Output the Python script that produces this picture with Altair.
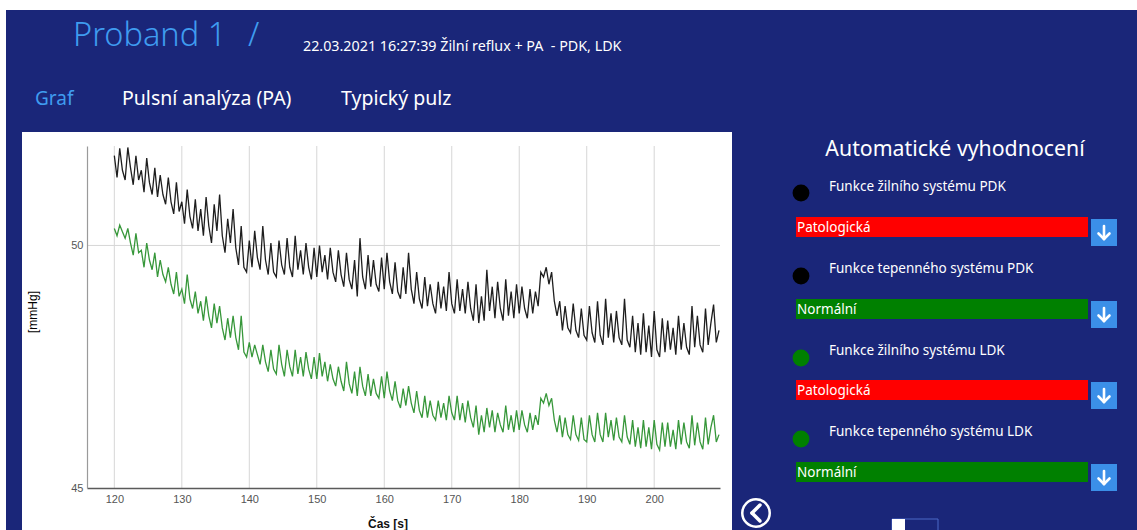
import altair as alt
import pandas as pd

# ---------------- data ----------------
T0 = 120.0
DT = 0.4
pdk = [
    51.85, 51.40, 52.00, 51.55, 51.35,  52.02, 51.60, 51.25, 51.85, 51.35,
    51.55, 51.10, 51.80, 51.30, 51.05,  51.60, 51.00, 51.45, 51.05, 50.85,
    51.40, 50.90, 50.65, 51.30, 50.70,  50.90, 50.45, 51.15, 50.60, 50.35,
    50.95, 50.30, 50.75, 50.20, 51.00,  50.40, 50.05, 50.85, 50.30, 51.05,
    50.20, 49.85, 50.55, 50.05, 50.75,  49.95, 49.60, 50.40, 49.55, 49.45,
    50.10, 49.55, 50.30, 49.75, 49.50,  50.40, 49.70, 49.40, 50.05, 49.45,
    49.35, 50.10, 49.60, 49.40, 50.15,  49.55, 49.35, 50.20, 49.50, 49.90,
    49.40, 50.05, 49.55, 49.30, 49.95,  49.35, 50.00, 49.45, 49.80, 49.30,
    49.95, 49.45, 49.25, 49.90, 49.40,  49.15, 49.85, 49.30, 49.10, 49.70,
    48.95, 50.15, 49.35, 49.10, 49.80,  49.15, 49.70, 49.20, 49.05, 49.75,
    49.10, 49.85, 49.25, 49.00, 49.65,  49.05, 48.90, 49.55, 49.00, 49.85,
    49.10, 48.80, 49.45, 48.90, 48.70,  49.35, 48.75, 49.20, 48.80, 48.60,
    49.25, 48.70, 49.15, 48.65, 49.45,  48.80, 48.60, 49.30, 48.65, 49.10,
    48.60, 49.25, 48.70, 48.45, 49.20,  48.40, 48.95, 48.45, 49.50, 48.65,
    49.15, 48.50, 49.25, 48.70, 48.45,  49.30, 48.55, 49.05, 48.50, 49.20,
    48.60, 49.15, 48.70, 48.50, 49.10,  48.60, 49.05, 48.75, 49.45, 49.35,
    49.55, 49.20, 49.45, 48.85, 48.55,  48.85, 48.25, 48.75, 48.30, 48.20,
    48.80, 48.25, 48.10, 48.70, 48.15,  48.05, 48.75, 48.20, 48.00, 48.85,
    48.15, 47.95, 48.90, 48.10, 48.60,  48.00, 48.65, 48.10, 47.95, 48.90,
    48.05, 47.90, 48.55, 47.80, 48.40,  47.75, 48.60, 47.80, 48.35, 47.70,
    48.65, 47.85, 47.70, 48.50, 47.80,  48.45, 47.85, 48.30, 47.75, 48.55,
    47.85, 48.40, 47.90, 47.75, 48.75,  47.90, 48.55, 47.95, 47.80, 48.70,
    47.95, 48.40, 48.78, 48.00, 48.25,
]
ldk = [
    50.35, 50.20, 50.42, 50.28, 50.15,  50.35, 50.05, 49.80, 50.25, 49.85,
    49.90, 49.55, 50.05, 49.70, 49.50,  49.85, 49.35, 49.70, 49.40, 49.25,
    49.55, 49.20, 49.00, 49.45, 48.95,  49.10, 48.80, 49.40, 48.90, 48.70,
    49.05, 48.60, 48.85, 48.45, 48.95,  48.55, 48.30, 48.80, 48.40, 48.75,
    48.30, 48.05, 48.50, 48.10, 48.55,  48.10, 47.85, 48.55, 47.80, 47.70,
    48.00, 47.70, 47.95, 47.75, 47.55,  47.95, 47.60, 47.40, 47.85, 47.45,
    47.35, 47.95, 47.55, 47.30, 47.85,  47.50, 47.30, 47.85, 47.35, 47.70,
    47.30, 47.80, 47.45, 47.25, 47.70,  47.25, 47.78, 47.30, 47.60, 47.20,
    47.55, 47.25, 47.10, 47.50, 47.20,  47.00, 47.60, 47.15, 46.95, 47.40,
    46.90, 47.50, 47.10, 46.90, 47.35,  46.90, 47.25, 46.95, 46.85, 47.30,
    46.85, 47.40, 47.00, 46.80, 47.20,  46.80, 46.65, 47.05, 46.70, 47.10,
    46.75, 46.55, 47.00, 46.60, 46.45,  46.90, 46.45, 46.80, 46.50, 46.40,
    46.80, 46.45, 46.75, 46.40, 46.90,  46.55, 46.40, 46.90, 46.40, 46.75,
    46.35, 46.80, 46.45, 46.25, 46.70,  46.10, 46.50, 46.15, 46.65, 46.25,
    46.60, 46.15, 46.55, 46.30, 46.15,  46.70, 46.20, 46.50, 46.15, 46.60,
    46.20, 46.60, 46.30, 46.15, 46.55,  46.20, 46.50, 46.30, 46.85, 46.75,
    46.95, 46.70, 46.85, 46.40, 46.15,  46.50, 46.05, 46.45, 46.10, 46.00,
    46.50, 46.10, 45.98, 46.45, 46.00,  45.95, 46.50, 46.10, 45.95, 46.55,
    46.10, 45.95, 46.55, 46.05, 46.40,  45.98, 46.45, 46.05, 45.95, 46.50,
    46.05, 45.90, 46.40, 45.85, 46.25,  45.82, 46.40, 45.85, 46.25, 45.80,
    46.40, 45.90, 45.78, 46.35, 45.85,  46.35, 45.85, 46.20, 45.80, 46.40,
    45.90, 46.35, 45.95, 45.82, 46.50,  45.88, 46.35, 45.95, 45.80, 46.45,
    45.90, 46.25, 46.50, 45.95, 46.10,
]
x_ticks = [120, 130, 140, 150, 160, 170, 180, 190, 200]
y_ticks = [45, 50]
y_grid = [50]
series_names = ["PDK", "LDK"]
series_colors = ["#1e1e1e", "#37973a"]

status_labels = ["Funkce žilního systému PDK", "Funkce tepenného systému PDK",
                 "Funkce žilního systému LDK", "Funkce tepenného systému LDK"]
status_values = ["Patologická", "Normální", "Patologická", "Normální"]
status_dot = ["#000000", "#000000", "#008000", "#008000"]
status_fill = ["#ff0000", "#008000", "#ff0000", "#008000"]

rows = []
for name, vals in zip(series_names, [pdk, ldk]):
    for i, v in enumerate(vals):
        rows.append({"t": round(T0 + DT * i, 2), "v": v, "s": name})
df = pd.DataFrame(rows)

# ---------------- layout ----------------
OX, OY = 87, 146          # plot-area origin on the page
W, H = 633, 342
XDOM = [115.95, 209.75]
YDOM = [45.0, 52.05]
xs = alt.Scale(domain=XDOM, nice=False, zero=False)
ys = alt.Scale(domain=YDOM, nice=False, zero=False)

x_axis = alt.Axis(values=x_ticks, grid=False, ticks=False, domainColor="#5a5a5a",
                  domainWidth=1.6, labelColor="#555555", labelFontSize=11,
                  labelFont="Liberation Sans", labelPadding=5, title=None, zindex=1)
y_axis = alt.Axis(values=y_ticks, grid=False, ticks=False, domainColor="#9a9a9a",
                  domainWidth=1.2, labelColor="#555555", labelFontSize=11,
                  labelFont="Liberation Sans", labelPadding=4, title=None, zindex=1)

one = pd.DataFrame({"k": [0]})
UI = "Noto Sans"
BG = "#1a2679"


def rect(x1, y1, x2, y2, fill, stroke=None, sw=0):
    kw = dict(fill=fill)
    if stroke:
        kw.update(stroke=stroke, strokeWidth=sw)
    return alt.Chart(one).mark_rect(**kw).encode(
        x=alt.value(x1 - OX), x2=alt.value(x2 - OX),
        y=alt.value(y1 - OY), y2=alt.value(y2 - OY))


def text(s, x, y, size, color="white", align="left", weight="normal",
         font=UI, angle=0):
    return alt.Chart(one).mark_text(
        text=s, align=align, baseline="middle", fontSize=size, color=color,
        fontWeight=weight, font=font, angle=angle).encode(
        x=alt.value(x - OX), y=alt.value(y - OY))


def seg(x1, y1, x2, y2, color="white", sw=2.5):
    return alt.Chart(one).mark_rule(color=color, strokeWidth=sw, strokeCap="round").encode(
        x=alt.value(x1 - OX), x2=alt.value(x2 - OX),
        y=alt.value(y1 - OY), y2=alt.value(y2 - OY))


def dot(x, y, d, color, filled=True, sw=0):
    if filled:
        m = alt.Chart(one).mark_circle(size=3.1416 * (d / 2) ** 2, color=color, opacity=1)
    else:
        m = alt.Chart(one).mark_point(shape="circle", size=3.1416 * (d / 2) ** 2,
                                      color=color, filled=False, strokeWidth=sw, opacity=1)
    return m.encode(x=alt.value(x - OX), y=alt.value(y - OY))


layers = []
# page background
layers.append(rect(6, 10, 1140, 534, BG))
# white chart panel
layers.append(rect(22, 132, 732, 534, "#ffffff"))

# grid lines
layers.append(alt.Chart(pd.DataFrame({"t": x_ticks})).mark_rule(color="#d6d6d6", strokeWidth=1).encode(
    x=alt.X("t:Q", scale=xs, axis=x_axis), y=alt.value(0), y2=alt.value(H)))
layers.append(alt.Chart(pd.DataFrame({"v": y_grid})).mark_rule(color="#d6d6d6", strokeWidth=1).encode(
    y=alt.Y("v:Q", scale=ys, axis=y_axis), x=alt.value(0), x2=alt.value(W)))

# data lines
lines = alt.Chart(df).mark_line(strokeWidth=1.3).encode(
    x=alt.X("t:Q", scale=xs, axis=x_axis),
    y=alt.Y("v:Q", scale=ys, axis=y_axis),
    color=alt.Color("s:N", scale=alt.Scale(domain=series_names, range=series_colors), legend=None),
    detail="s:N",
)
layers.append(lines)

# axis titles
layers.append(text("[mmHg]", 33, 312, 12, color="#000000", align="center",
                   font="Liberation Sans", angle=270))
layers.append(text("Čas [s]", 388, 524, 12, color="#111111", align="center",
                   font="Liberation Sans", weight="bold"))

# header
layers.append(text("Proband 1", 73, 36, 32.5, color="#3f9cf0", weight=300))
layers.append(text("/", 248, 36, 32.5, color="#3f9cf0", weight=300))
layers.append(text("22.03.2021 16:27:39 Žilní reflux + PA\u00a0\u00a0- PDK, LDK", 303, 47, 14.3))
layers.append(text("Graf", 35, 99, 19, color="#3f9cf0"))
layers.append(text("Pulsní analýza (PA)", 122, 99, 19.5))
layers.append(text("Typický pulz", 341, 99, 19.5))

# right panel
layers.append(text("Automatické vyhodnocení", 955, 150, 21.3, align="center"))
label_y = [187, 269, 351, 432]
dot_y = [193, 276, 358, 439]
bar_y = [217, 299, 380, 462]
for lab, val, dc, fc, ly, dy, by in zip(status_labels, status_values, status_dot,
                                        status_fill, label_y, dot_y, bar_y):
    layers.append(dot(801, dy, 19, dc))
    layers.append(text(lab, 829, ly, 13.5))
    layers.append(rect(796, by, 1088, by + 20, fc))
    layers.append(text(val, 797, by + 10.5, 13.5))
    bx, bt = 1091, by + 2
    layers.append(rect(bx, bt, bx + 26, bt + 27, "#3b8fe8"))
    cx = bx + 13
    layers.append(seg(cx, bt + 7, cx, bt + 20, sw=2.6))
    layers.append(seg(cx - 5.5, bt + 14.5, cx, bt + 20, sw=2.6))
    layers.append(seg(cx + 5.5, bt + 14.5, cx, bt + 20, sw=2.6))

# back button
layers.append(dot(756, 513, 31, "white", filled=False, sw=2.5))
layers.append(seg(760, 505, 752, 513, sw=3.5))
layers.append(seg(752, 513, 760, 521, sw=3.5))

# toggle at the bottom
layers.append(rect(892, 519, 938, 534, BG, stroke="#4a68c8", sw=1))
layers.append(rect(892, 519, 905, 534, "#ffffff"))

chart = alt.layer(*layers).properties(
    width=W, height=H,
    padding={"left": OX, "top": OY, "right": 1137 - OX - W, "bottom": 530 - OY - H},
    autosize=alt.AutoSizeParams(type="none"),
    background="#ffffff",
).configure_view(stroke=None)

chart.save("out.html", embed_options={"renderer": "svg", "actions": False})
